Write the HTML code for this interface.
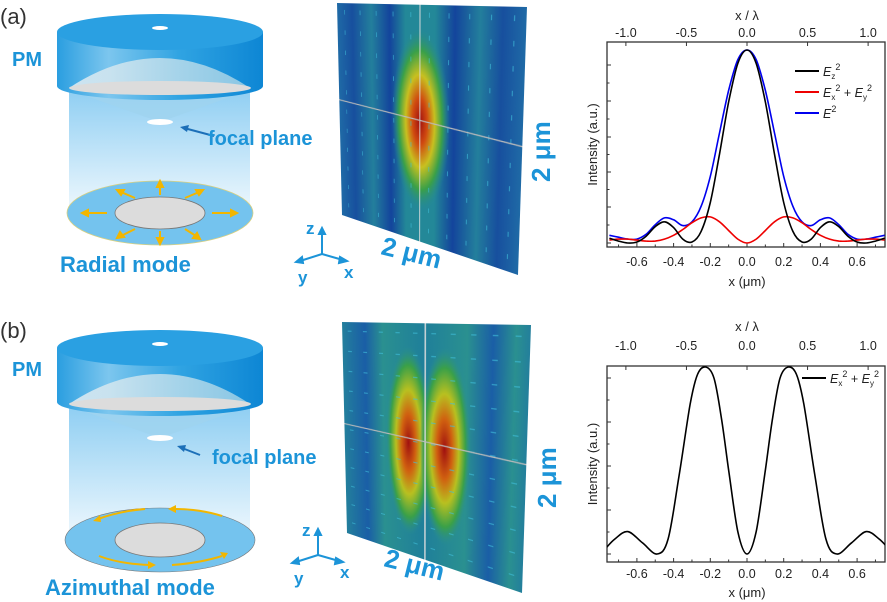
<!DOCTYPE html>
<html><head><meta charset="utf-8">
<style>
html,body{margin:0;padding:0;background:#fff;}
#root{position:relative;width:887px;height:602px;overflow:hidden;font-family:"Liberation Sans",sans-serif;}
svg{position:absolute;left:0;top:0;}
.blue{fill:#1c94d8;font-weight:bold;}
.field{position:absolute;left:0;top:0;width:200px;height:200px;transform-origin:0 0;}
</style></head>
<body>
<div id="root">
<svg width="887" height="602">
<defs>
<linearGradient id="cyl" x1="0" x2="1" y1="0" y2="0">
<stop offset="0" stop-color="#2a9ee0"/><stop offset="0.25" stop-color="#7cc6ee"/><stop offset="0.6" stop-color="#2fa3e2"/><stop offset="1" stop-color="#0d86d4"/></linearGradient>
<linearGradient id="beam" x1="0" x2="0" y1="0" y2="1">
<stop offset="0" stop-color="#8ccdf2"/><stop offset="1" stop-color="#eaf6fd"/></linearGradient>
<linearGradient id="dome" x1="0" x2="1"><stop offset="0" stop-color="#e6eef2"/><stop offset="1" stop-color="#9dd0e6"/></linearGradient>
</defs>
<g id="panelA">
<text x="0" y="24" font-size="22" fill="#333">(a)</text>
<text x="12" y="66" font-size="20" class="blue">PM</text>
<rect x="69" y="86" width="181" height="120" fill="url(#beam)"/>
<path d="M69,90 L160,122 L250,90 Z" fill="#9fd3ef" opacity="0.8"/>
<path d="M57,32 L57,86 A103,14 0 0 0 263,86 L263,32 Z" fill="url(#cyl)"/>
<ellipse cx="160" cy="32" rx="103" ry="18" fill="#2aa0e2"/>
<ellipse cx="160" cy="28" rx="8" ry="2" fill="#fff"/>
<path d="M69,88 Q160,28 250,88 Z" fill="url(#dome)" opacity="0.85"/>
<ellipse cx="160" cy="88" rx="91" ry="7" fill="#dcdcdc"/>
<ellipse cx="160" cy="122" rx="13" ry="3" fill="#fff"/>
<path d="M214,136 L184,128" stroke="#1c6fb8" stroke-width="2"/><path d="M180,127 L189,125 L187,132 Z" fill="#1c6fb8"/>
<text x="208" y="145" font-size="20" class="blue">focal plane</text>
<ellipse cx="160" cy="213" rx="93" ry="32" fill="#74c3ee" stroke="#d8d080" stroke-width="0.8"/>
<ellipse cx="160" cy="213" rx="45" ry="16" fill="#dcdcdc" stroke="#777" stroke-width="0.8"/>
<g stroke="#f2b600" stroke-width="2" fill="#f2b600">
<path d="M107,213 L86,213"/><path d="M82,213 l6,-3 v6z"/>
<path d="M212,213 L233,213"/><path d="M237,213 l-6,-3 v6z"/>
<path d="M160,195 L160,185"/><path d="M160,181 l-3,6 h6z"/>
<path d="M160,231 L160,240"/><path d="M160,244 l-3,-6 h6z"/>
<path d="M135,198 L121,192"/><path d="M117,190 l7,0 l-3,5z"/>
<path d="M185,198 L199,192"/><path d="M203,190 l-7,0 l3,5z"/>
<path d="M135,229 L121,236"/><path d="M117,238 l3,-6 l4,5z"/>
<path d="M185,229 L196,236"/><path d="M200,239 l-7,-1 l4,-5z"/>
</g>
<text x="60" y="272" font-size="22" class="blue">Radial mode</text>
</g>
<g id="panelB" transform="translate(0,316)">
<text x="0" y="22" font-size="22" fill="#333">(b)</text>
<text x="12" y="60" font-size="20" class="blue">PM</text>
<rect x="69" y="86" width="181" height="130" fill="url(#beam)"/>
<path d="M69,90 L160,122 L250,90 Z" fill="#9fd3ef" opacity="0.8"/>
<path d="M57,32 L57,86 A103,14 0 0 0 263,86 L263,32 Z" fill="url(#cyl)"/>
<ellipse cx="160" cy="32" rx="103" ry="18" fill="#2aa0e2"/>
<ellipse cx="160" cy="28" rx="8" ry="2" fill="#fff"/>
<path d="M69,88 Q160,28 250,88 Z" fill="url(#dome)" opacity="0.85"/>
<ellipse cx="160" cy="88" rx="91" ry="7" fill="#dcdcdc"/>
<ellipse cx="160" cy="122" rx="13" ry="3" fill="#fff"/>
<path d="M200,139 L182,132" stroke="#1c6fb8" stroke-width="2"/><path d="M177,130 L186,129 L184,136 Z" fill="#1c6fb8"/>
<text x="212" y="148" font-size="20" class="blue">focal plane</text>
<ellipse cx="160" cy="224" rx="95" ry="32" fill="#74c3ee" stroke="#777" stroke-width="0.6"/>
<ellipse cx="160" cy="224" rx="45" ry="17" fill="#dcdcdc" stroke="#777" stroke-width="0.8"/>
<g stroke="#f2b600" stroke-width="2" fill="none">
<path d="M222,200 Q200,193 175,193"/><path d="M145,193 Q120,195 98,203"/>
<path d="M99,240 Q120,248 150,249"/><path d="M172,249 Q200,247 222,240"/>
</g>
<g fill="#f2b600"><path d="M168,193 l8,-4 v8z"/><path d="M93,205 l7,-6 l1,7z"/><path d="M156,249 l-8,-4 v8z"/><path d="M228,237 l-8,-1 l4,7z"/></g>
<text x="45" y="279" font-size="22" class="blue">Azimuthal mode</text>
</g>
<g stroke="#1c94d8" stroke-width="2" fill="#1c94d8">
<path d="M322,254 L322,232 M322,254 L300,261 M322,254 L343,260" fill="none"/>
<path d="M322,228 l-3,6 h6z M296,262 l6,-5 l1,6z M347,261 l-7,-4 l-1,6z"/>
</g>
<g stroke="#1c94d8" stroke-width="2" fill="#1c94d8">
<path d="M318,555 L318,533 M318,555 L296,562 M318,555 L339,561" fill="none"/>
<path d="M318,529 l-3,6 h6z M292,563 l6,-5 l1,6z M343,562 l-7,-4 l-1,6z"/>
</g>
<g font-size="17" class="blue">
<text x="306" y="234">z</text><text x="298" y="283">y</text><text x="344" y="278">x</text>
<text x="302" y="536">z</text><text x="294" y="584">y</text><text x="340" y="578">x</text>
</g>
<text x="0" y="0" font-size="26" class="blue" transform="translate(380,254) rotate(14)">2 μm</text>
<text x="0" y="0" font-size="26" class="blue" transform="translate(550,182) rotate(-90)">2 μm</text>
<text x="0" y="0" font-size="26" class="blue" transform="translate(383,566) rotate(14)">2 μm</text>
<text x="0" y="0" font-size="26" class="blue" transform="translate(556,508) rotate(-90)">2 μm</text>
</svg>

<svg class="field" id="fieldA" viewBox="0 0 200 200" preserveAspectRatio="none">
<defs>
<linearGradient id="stripesA" x1="0" x2="1"><stop offset="0" stop-color="#1f6aa6"/><stop offset="0.1" stop-color="#174f9e"/><stop offset="0.22" stop-color="#237f9c"/><stop offset="0.33" stop-color="#13449c"/><stop offset="0.42" stop-color="#238898"/><stop offset="0.58" stop-color="#238898"/><stop offset="0.68" stop-color="#13449c"/><stop offset="0.8" stop-color="#237f9c"/><stop offset="0.9" stop-color="#174f9e"/><stop offset="1" stop-color="#1f6aa6"/></linearGradient>
<radialGradient id="hotA"><stop offset="0" stop-color="#a01010"/><stop offset="0.25" stop-color="#d04a10"/><stop offset="0.5" stop-color="#c8c020"/><stop offset="0.75" stop-color="#3aa048"/><stop offset="1" stop-color="#238898" stop-opacity="0"/></radialGradient>
</defs>
<rect width="200" height="200" fill="url(#stripesA)"/>
<ellipse cx="100" cy="95" rx="32" ry="78" fill="url(#hotA)"/>
<g id="arrowsA" stroke="#40c0dc" stroke-width="1" opacity="0.6"></g>
<line x1="100" y1="0" x2="100" y2="200" stroke="#ddd" stroke-width="1"/>
<line x1="0" y1="88" x2="200" y2="100" stroke="#bbb" stroke-width="1"/>
</svg>

<svg class="field" id="fieldB" viewBox="0 0 200 200" preserveAspectRatio="none">
<defs>
<linearGradient id="stripesB" x1="0" x2="1"><stop offset="0" stop-color="#237f9c"/><stop offset="0.15" stop-color="#1a5ea6"/><stop offset="0.26" stop-color="#2a9090"/><stop offset="0.5" stop-color="#1f7f9a"/><stop offset="0.72" stop-color="#2a9090"/><stop offset="0.84" stop-color="#1a5ea6"/><stop offset="0.94" stop-color="#2a9090"/><stop offset="1" stop-color="#237f9c"/></linearGradient>
<radialGradient id="hotB"><stop offset="0" stop-color="#a01010"/><stop offset="0.3" stop-color="#d06010"/><stop offset="0.55" stop-color="#b8c020"/><stop offset="0.8" stop-color="#3aa048"/><stop offset="1" stop-color="#2a9090" stop-opacity="0"/></radialGradient>
</defs>
<rect width="200" height="200" fill="url(#stripesB)"/>
<ellipse cx="82" cy="100" rx="27" ry="82" fill="url(#hotB)"/>
<ellipse cx="122" cy="100" rx="27" ry="82" fill="url(#hotB)"/>
<g id="arrowsB" stroke="#40c0dc" stroke-width="1" opacity="0.6"></g>
<line x1="101" y1="0" x2="101" y2="200" stroke="#ddd" stroke-width="1.5"/>
<line x1="0" y1="93" x2="200" y2="100" stroke="#bbb" stroke-width="1"/>
</svg>

<svg width="887" height="602" id="charts"></svg>
</div>
<script>
// ---------- chart data ----------
const topX = [-0.75,-0.7,-0.65,-0.6,-0.55,-0.5,-0.45,-0.4,-0.35,-0.3,-0.25,-0.2,-0.15,-0.1,-0.05,0,0.05,0.1,0.15,0.2,0.25,0.3,0.35,0.4,0.45,0.5,0.55,0.6,0.65,0.7,0.75];
const ezSq = [0.025,0.01,0.0,0.005,0.035,0.085,0.11,0.08,0.02,0.005,0.06,0.21,0.46,0.73,0.93,1.0,0.93,0.73,0.46,0.21,0.06,0.005,0.02,0.08,0.11,0.085,0.035,0.005,0.0,0.01,0.025];
const exySq = [0.015,0.02,0.02,0.015,0.01,0.01,0.02,0.04,0.07,0.105,0.13,0.135,0.11,0.065,0.02,0.0,0.02,0.065,0.11,0.135,0.13,0.105,0.07,0.04,0.02,0.01,0.01,0.015,0.02,0.02,0.015];
const eSq = [0.04,0.03,0.02,0.02,0.045,0.095,0.13,0.12,0.09,0.11,0.19,0.345,0.57,0.79,0.95,1.0,0.95,0.79,0.57,0.345,0.19,0.11,0.09,0.12,0.13,0.095,0.045,0.02,0.02,0.03,0.04];
const botX = [-0.77,-0.72,-0.65,-0.57,-0.49,-0.43,-0.37,-0.31,-0.27,-0.225,-0.18,-0.14,-0.1,-0.05,0,0.05,0.1,0.14,0.18,0.225,0.27,0.31,0.37,0.43,0.49,0.57,0.65,0.72,0.77];
const azSq = [0.03,0.08,0.12,0.06,0.0,0.08,0.42,0.8,0.96,1.0,0.94,0.73,0.45,0.12,0.0,0.12,0.45,0.73,0.94,1.0,0.96,0.8,0.42,0.08,0.0,0.06,0.12,0.08,0.03];
const xTicks = [-0.6,-0.4,-0.2,0.0,0.2,0.4,0.6];
const lamTicks = [-1.0,-0.5,0.0,0.5,1.0];
const LAMBDA = 0.66;

const NS = "http://www.w3.org/2000/svg";
const svg = document.getElementById('charts');
function mk(tag, attrs, parent){const e=document.createElementNS(NS,tag);for(const k in attrs)e.setAttribute(k,attrs[k]);(parent||svg).appendChild(e);return e;}
function xs(v){return 747 + v*183.5;}
function smooth(pts){let d='M'+pts[0][0].toFixed(1)+','+pts[0][1].toFixed(1);
 for(let i=0;i<pts.length-1;i++){const p0=pts[i-1]||pts[i],p1=pts[i],p2=pts[i+1],p3=pts[i+2]||p2;
  const c1=[p1[0]+(p2[0]-p0[0])/6,p1[1]+(p2[1]-p0[1])/6],c2=[p2[0]-(p3[0]-p1[0])/6,p2[1]-(p3[1]-p1[1])/6];
  d+=' C'+c1[0].toFixed(1)+','+c1[1].toFixed(1)+' '+c2[0].toFixed(1)+','+c2[1].toFixed(1)+' '+p2[0].toFixed(1)+','+p2[1].toFixed(1);}
 return d;}

function chart(top,bot,y0,ky,yTickYs,labY,name){
 const g=mk('g',{});
 
 
 const cid='clip'+name;
 const cp=mk('clipPath',{id:cid},g);mk('rect',{x:607,y:top,width:278,height:bot-top},cp);
 const ys=v=>y0-v*ky;
 const frame=mk('rect',{x:607,y:top,width:278,height:bot-top,fill:'none',stroke:'#333','stroke-width':1.3},g);
 
 
 yTickYs.forEach((ty,i)=>{mk('line',{x1:607,x2:611,y1:ty,y2:ty,stroke:'#333','stroke-width':1},g);
   if(i<yTickYs.length-1){const my=(ty+yTickYs[i+1])/2;mk('line',{x1:607,x2:609.5,y1:my,y2:my,stroke:'#333','stroke-width':1},g);}});
 xTicks.forEach(v=>{const x=xs(v);mk('line',{x1:x,x2:x,y1:bot,y2:bot-4,stroke:'#333'},g);
   const t=mk('text',{x:x,y:labY.bottomTicks,'font-size':12.5,'text-anchor':'middle',fill:'#222'},g);t.textContent=v.toFixed(1);
   
   });
 for(let v=-0.7;v<0.76;v+=0.2){const x=xs(v);mk('line',{x1:x,x2:x,y1:bot,y2:bot-2.5,stroke:'#333'},g);}
 lamTicks.forEach(v=>{const x=xs(v*LAMBDA);mk('line',{x1:x,x2:x,y1:top,y2:top+4,stroke:'#333'},g);
   const t=mk('text',{x:x,y:labY.topTicks,'font-size':12.5,'text-anchor':'middle',fill:'#222'},g);t.textContent=v.toFixed(1);
   
   });
 const xl=mk('text',{x:747,y:labY.xTitle,'font-size':13,'text-anchor':'middle',fill:'#222'},g);xl.textContent='x (μm)';
 
 
 const tl=mk('text',{x:747,y:labY.topTitle,'font-size':13,'text-anchor':'middle',fill:'#222'},g);tl.textContent='x / λ';
 
 
 const yl=mk('text',{x:0,y:0,'font-size':13,'text-anchor':'middle',fill:'#222',transform:'translate(597,'+((top+bot)/2)+') rotate(-90)'},g);yl.textContent='Intensity (a.u.)';
 
 
 return {g,ys,cid};
}
const A=chart(42,247,243,193,[65,101,137,172,207,243],{bottomTicks:266,xTitle:286,topTitle:20,topTicks:37},'chart-radial');
[[eSq,'#0000ee','series-e-squared'],[exySq,'#ee0000','series-exy-squared'],[ezSq,'#000','series-ez-squared']].forEach(([arr,c,n])=>{
 const p=mk('path',{d:smooth(topX.map((x,i)=>[xs(x),A.ys(arr[i])])),fill:'none',stroke:c,'stroke-width':1.6,'clip-path':'url(#'+A.cid+')'},A.g);
 
 
});
const B=chart(366,562,554,187,[378,422,466,510,554],{bottomTicks:578,xTitle:597,topTitle:331,topTicks:350},'chart-azimuthal');
const pb=mk('path',{d:smooth(botX.map((x,i)=>[xs(x),B.ys(azSq[i])])),fill:'none',stroke:'#000','stroke-width':1.6,'clip-path':'url(#'+B.cid+')'},B.g);



function legend(g,y,color,html,x0){
 const l=mk('line',{x1:x0,x2:x0+24,y1:y,y2:y,stroke:color,'stroke-width':2},g);
 
 
 const t=mk('text',{x:x0+28,y:y+5,'font-size':12.5,fill:'#222'},g);t.innerHTML=html;
 
 
}
const ez='<tspan font-style="italic">E</tspan><tspan font-size="8" dy="3">z</tspan><tspan font-size="9" dy="-9">2</tspan>';
const exy='<tspan font-style="italic">E</tspan><tspan font-size="8" dy="3">x</tspan><tspan font-size="9" dy="-9">2</tspan><tspan dy="6"> + </tspan><tspan font-style="italic">E</tspan><tspan font-size="8" dy="3">y</tspan><tspan font-size="9" dy="-9">2</tspan>';
const e2='<tspan font-style="italic">E</tspan><tspan font-size="9" dy="-6">2</tspan>';
legend(A.g,71,'#000',ez,795);
legend(A.g,92,'#ee0000',exy,795);
legend(A.g,113,'#0000ee',e2,795);
legend(B.g,378,'#000',exy,802);

function arrows(id,vertical){const g=document.getElementById(id);
 for(let i=0;i<10;i++)for(let j=0;j<11;j++){const cx=10+i*20,cy=8+j*18;
  mk('line',vertical?{x1:cx,x2:cx,y1:cy-2,y2:cy+2}:{x1:cx-2.5,x2:cx+2.5,y1:cy,y2:cy},g);}}
arrows('arrowsA',true);arrows('arrowsB',false);

function place(el,p){const [p0,p1,p2,p3]=p;
 const dx1=p1[0]-p2[0],dx2=p3[0]-p2[0],dx3=p0[0]-p1[0]+p2[0]-p3[0];
 const dy1=p1[1]-p2[1],dy2=p3[1]-p2[1],dy3=p0[1]-p1[1]+p2[1]-p3[1];
 const den=dx1*dy2-dx2*dy1;const gg=(dx3*dy2-dx2*dy3)/den,h=(dx1*dy3-dx3*dy1)/den;
 const a=p1[0]-p0[0]+gg*p1[0],b=p3[0]-p0[0]+h*p3[0],c=p0[0];
 const d=p1[1]-p0[1]+gg*p1[1],e=p3[1]-p0[1]+h*p3[1],f=p0[1];const W=200,H=200;
 el.style.transform='matrix3d('+[a/W,d/W,0,gg/W,b/H,e/H,0,h/H,0,0,1,0,c,f,0,1].join(',')+')';}
place(document.getElementById('fieldA'),[[337,3],[527,7],[518,275],[342,215]]);
place(document.getElementById('fieldB'),[[342,322],[531,325],[522,593],[347,533]]);
</script>
</body></html>
